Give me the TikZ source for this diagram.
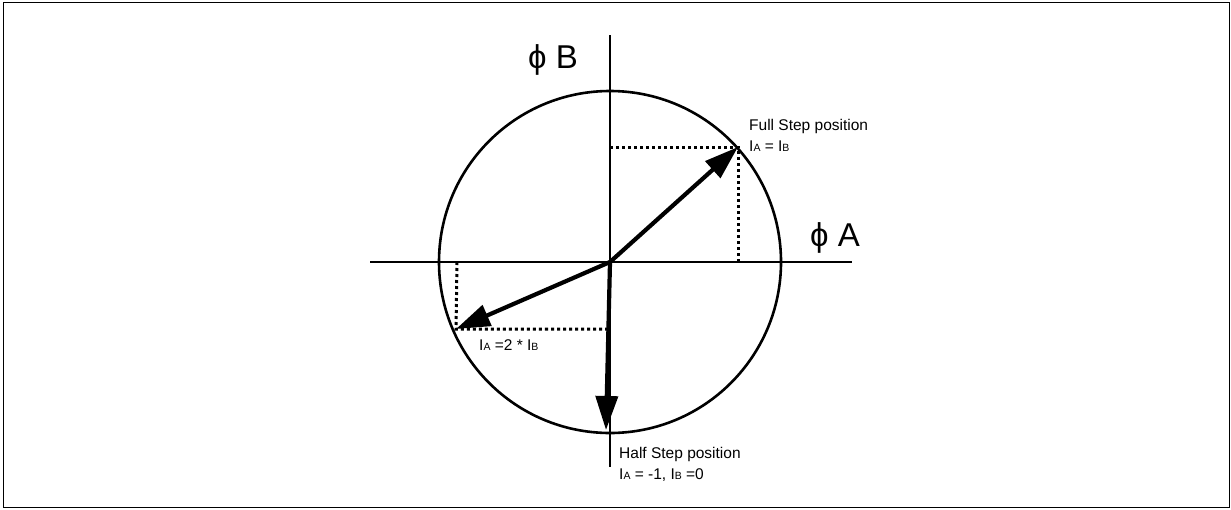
\documentclass[tikz,border=0pt]{standalone}
\usepackage{fontspec}
\setmainfont{Liberation Sans}
\usetikzlibrary{arrows.meta}
\newcommand{\smallsub}[1]{{\fontsize{10.5}{10.5}\selectfont #1}}
\tikzset{
  axis/.style={line width=2.6pt},
  vec/.style={line width=4.2pt,-{Triangle[length=34pt,width=22pt]}},
  proj/.style={line width=3pt,dash pattern=on 3pt off 3pt},
  lbl/.style={font=\fontsize{15.5}{19}\selectfont,anchor=base west,inner sep=0pt,align=left},
  big/.style={font=\fontsize{33}{33}\selectfont,anchor=base west,inner sep=0pt}
}
\begin{document}
\begin{tikzpicture}[x=1pt,y=-1pt]
\useasboundingbox (0,0) rectangle (1231,509);
\draw[line width=1.8pt] (3.5,2.5) rectangle (1229.5,507.5);
% coordinates
\coordinate (O) at (610,262);
\coordinate (ax1) at (370,262);
\coordinate (ax2) at (852,262);
\coordinate (ay1) at (610,35);
\coordinate (ay2) at (610,467);
\coordinate (F) at (738,147);
\coordinate (Fx) at (738,262);
\coordinate (Fy) at (610,147);
\coordinate (L) at (456,329);
\coordinate (Lx) at (457,262);
\coordinate (Ly) at (608,329);
\coordinate (H) at (606,430);
% axes and circle
\draw[axis] (ax1) -- (ax2);
\draw[axis] (ay1) -- (ay2);
\draw[axis] (O) circle[radius=171];
% projections
\draw[proj] (Fy) -- (F) -- (Fx);
\draw[proj] (Lx) -- (L) -- (Ly);
% vectors
\draw[vec] (O) -- (F);
\draw[vec] (O) -- (L);
\draw[vec] (O) -- (H);
% labels
\node[big] (phB) at (528,68) {ϕ B};
\node[big] (phA) at (810,246) {ϕ A};
\node[lbl] (full) at (749,130) {Full Step position};
\node[lbl] (fulleq) at (749,151) {I\smallsub{A} = I\smallsub{B}};
\node[lbl] (left) at (479,350) {I\smallsub{A} =2 * I\smallsub{B}};
\node[lbl] (half) at (619,458) {Half Step position};
\node[lbl] (halfeq) at (619,479) {I\smallsub{A} = -1, I\smallsub{B} =0};
\end{tikzpicture}
\end{document}
